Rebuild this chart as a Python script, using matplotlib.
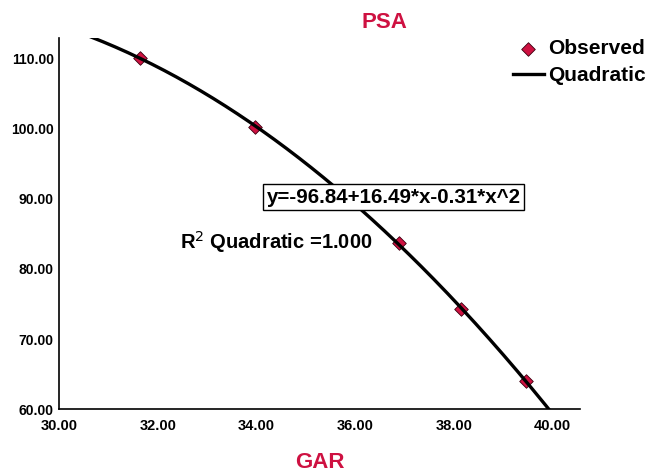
import numpy as np
import matplotlib
matplotlib.use("Agg")
import matplotlib.pyplot as plt

plt.rcParams['font.family'] = ['Liberation Sans', 'DejaVu Sans']

# observed points
gar = [31.63, 33.97, 36.88, 38.15, 39.46]
psa = [110.1, 100.3, 83.7, 74.3, 64.0]

x_ticks = [30, 32, 34, 36, 38, 40]
y_ticks = [60, 70, 80, 90, 100, 110]

red = "#CE1141"

fig = plt.figure(figsize=(6.48, 4.72), dpi=100)
ax = fig.add_axes([0.0915, 0.133, 0.803, 0.786])

coef = np.polyfit(gar, psa, 2)
xs = np.linspace(30, 40.6, 300)
ax.plot(xs, np.polyval(coef, xs), color="black", lw=2.4, zorder=3, label="Quadratic")
ax.scatter(gar, psa, marker="D", s=48, color=red, edgecolor="#3a0010", lw=0.6,
           zorder=2, label="Observed")

ax.set_xlim(30, 40.55)
ax.set_ylim(60, 112.9)
ax.set_xticks(x_ticks)
ax.set_yticks(y_ticks)
ax.set_xticklabels([f"{t:.2f}" for t in x_ticks], fontsize=10.5, fontweight="bold")
ax.set_yticklabels([f"{t:.2f}" for t in y_ticks], fontsize=10, fontweight="bold")
ax.tick_params(length=0, pad=4)
ax.tick_params(axis="x", pad=7)
for s in ["top", "right"]:
    ax.spines[s].set_visible(False)
for s in ["left", "bottom"]:
    ax.spines[s].set_linewidth(1.2)

fig.text(0.594, 0.953, "PSA", color=red, fontsize=16, fontweight="bold", ha="center", va="center")
fig.text(0.494, 0.021, "GAR", color=red, fontsize=16, fontweight="bold", ha="center", va="center")

ax.text(34.2, 90.2, "y=-96.84+16.49*x-0.31*x^2", fontsize=14.8, fontweight="bold",
        ha="left", va="center", zorder=5,
        bbox=dict(facecolor="white", edgecolor="black", lw=1, pad=2.5))
ax.text(32.45, 83.8, "R$^2$ Quadratic =1.000", fontsize=14.5, fontweight="bold",
        ha="left", va="center")

handles, labels = ax.get_legend_handles_labels()
leg = ax.legend(handles[::-1], labels[::-1], loc="upper left", bbox_to_anchor=(0.855, 1.02),
                frameon=False, prop=dict(size=15, weight="bold"),
                handlelength=1.5, handletextpad=0.2, labelspacing=0.4, borderaxespad=0)

fig.savefig("out.png", dpi=100)
